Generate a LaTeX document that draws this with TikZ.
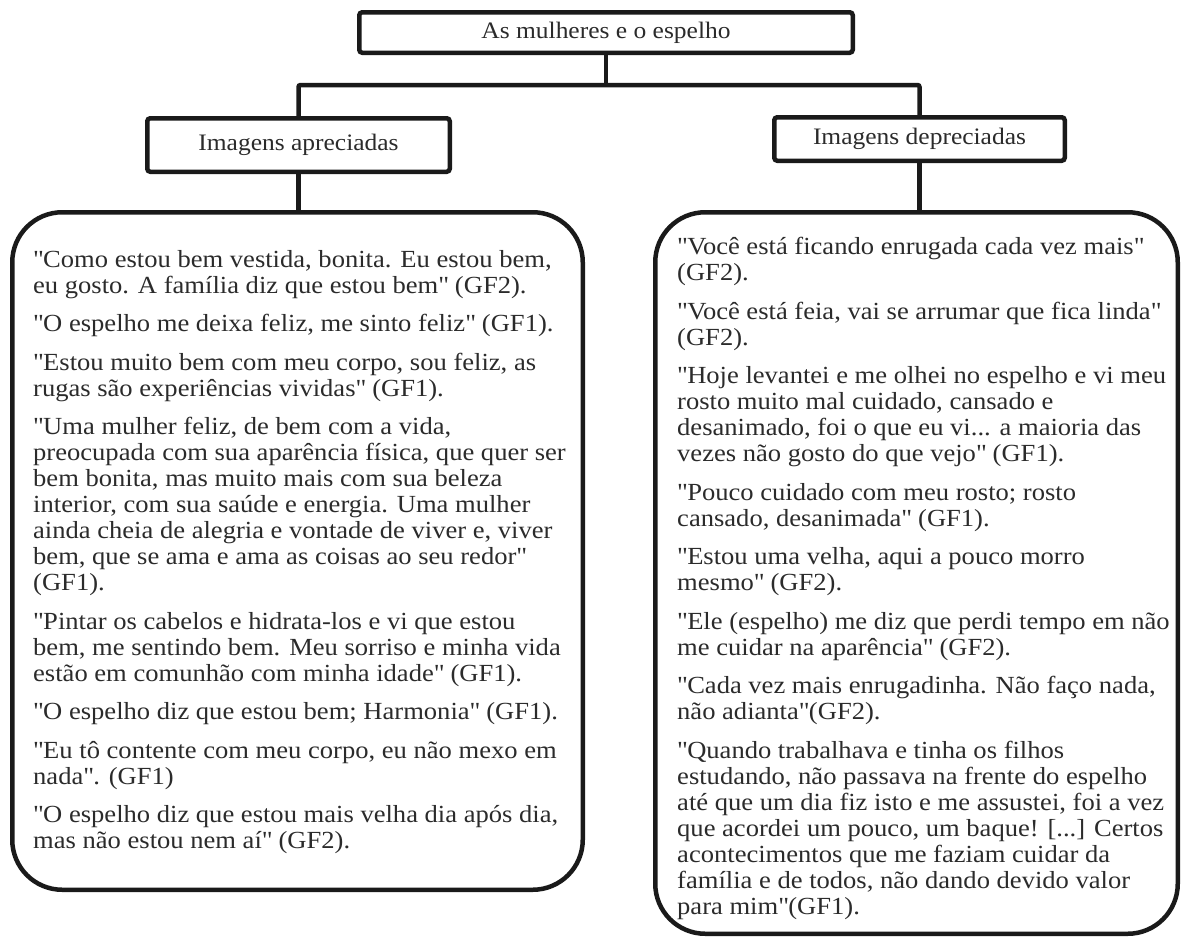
\documentclass[tikz,border=0pt]{standalone}
\usepackage{fontspec}
\setmainfont{Liberation Serif}[FakeStretch=1.08]
\newcommand{\myq}{\textquotedbl}
\definecolor{ink}{HTML}{1A1A1A}
\definecolor{txt}{HTML}{2B2B2B}
\tikzset{
  hdrbox/.style={draw=ink, line width=4.5pt, rounded corners=3pt, fill=white, inner sep=0pt,
    font=\fontsize{23.6}{26}\selectfont, text=txt},
  bigbox/.style={draw=ink, line width=4.5pt, rounded corners=50pt, inner sep=0pt},
  conn/.style={draw=ink, line width=4.5pt, rounded corners=2pt},
  quotes/.style={anchor=north west, inner sep=0pt, align=left, text=txt,
    font=\fontsize{24.6}{26}\selectfont}
}
\begin{document}
\begin{tikzpicture}[x=1pt, y=-1pt]
\useasboundingbox (0,0) rectangle (1183,938);
% header boxes
\node[hdrbox, minimum width=493.5pt, minimum height=40.5pt] (title) at (606,32.5) {As mulheres e o espelho};
\node[hdrbox, minimum width=302.5pt, minimum height=53.5pt] (la) at (298.5,145) {Imagens apreciadas};
\node[hdrbox, minimum width=290.5pt, minimum height=43.5pt] (ra) at (919.5,139) {Imagens depreciadas};
% big boxes
\node[bigbox, minimum width=570.5pt, minimum height=677.5pt] (lb) at (297.5,551) {};
\node[bigbox, minimum width=522.5pt, minimum height=721.5pt] (rb) at (916.5,573) {};
% connectors
\coordinate (j) at (606,85);
\draw[conn] (title.south) -- (j);
\draw[conn] (la.north) |- (j) -| (ra.north);
\draw[conn] (la.south) -- (la.south |- lb.north);
\draw[conn] (ra.south) -- (ra.south |- rb.north);
% texts
\node[quotes] (lt) at (33,250) {%
\myq Como estou bem vestida, bonita. Eu estou bem,\\
eu gosto. A família diz que estou bem\myq{} (GF2).\\[12.5pt]
\myq O espelho me deixa feliz, me sinto feliz\myq{} (GF1).\\[12.5pt]
\myq Estou muito bem com meu corpo, sou feliz, as\\
rugas são experiências vividas\myq{} (GF1).\\[12.5pt]
\myq Uma mulher feliz, de bem com a vida,\\
preocupada com sua aparência física, que quer ser\\
bem bonita, mas muito mais com sua beleza\\
interior, com sua saúde e energia. Uma mulher\\
ainda cheia de alegria e vontade de viver e, viver\\
bem, que se ama e ama as coisas ao seu redor\myq\\
(GF1).\\[12.5pt]
\myq Pintar os cabelos e hidrata-los e vi que estou\\
bem, me sentindo bem. Meu sorriso e minha vida\\
estão em comunhão com minha idade\myq{} (GF1).\\[12.5pt]
\myq O espelho diz que estou bem; Harmonia\myq{} (GF1).\\[12.5pt]
\myq Eu tô contente com meu corpo, eu não mexo em\\
nada\myq. (GF1)\\[12.5pt]
\myq O espelho diz que estou mais velha dia após dia,\\
mas não estou nem aí\myq{} (GF2).};
\node[quotes] (rt) at (677,237) {%
\myq Você está ficando enrugada cada vez mais\myq\\
(GF2).\\[12.5pt]
\myq Você está feia, vai se arrumar que fica linda\myq\\
(GF2).\\[12.5pt]
\myq Hoje levantei e me olhei no espelho e vi meu\\
rosto muito mal cuidado, cansado e\\
desanimado, foi o que eu vi... a maioria das\\
vezes não gosto do que vejo\myq{} (GF1).\\[12.5pt]
\myq Pouco cuidado com meu rosto; rosto\\
cansado, desanimada\myq{} (GF1).\\[12.5pt]
\myq Estou uma velha, aqui a pouco morro\\
mesmo\myq{} (GF2).\\[12.5pt]
\myq Ele (espelho) me diz que perdi tempo em não\\
me cuidar na aparência\myq{} (GF2).\\[12.5pt]
\myq Cada vez mais enrugadinha. Não faço nada,\\
não adianta\myq(GF2).\\[12.5pt]
\myq Quando trabalhava e tinha os filhos\\
estudando, não passava na frente do espelho\\
até que um dia fiz isto e me assustei, foi a vez\\
que acordei um pouco, um baque! [...] Certos\\
acontecimentos que me faziam cuidar da\\
família e de todos, não dando devido valor\\
para mim\myq(GF1).};
\end{tikzpicture}
\end{document}
